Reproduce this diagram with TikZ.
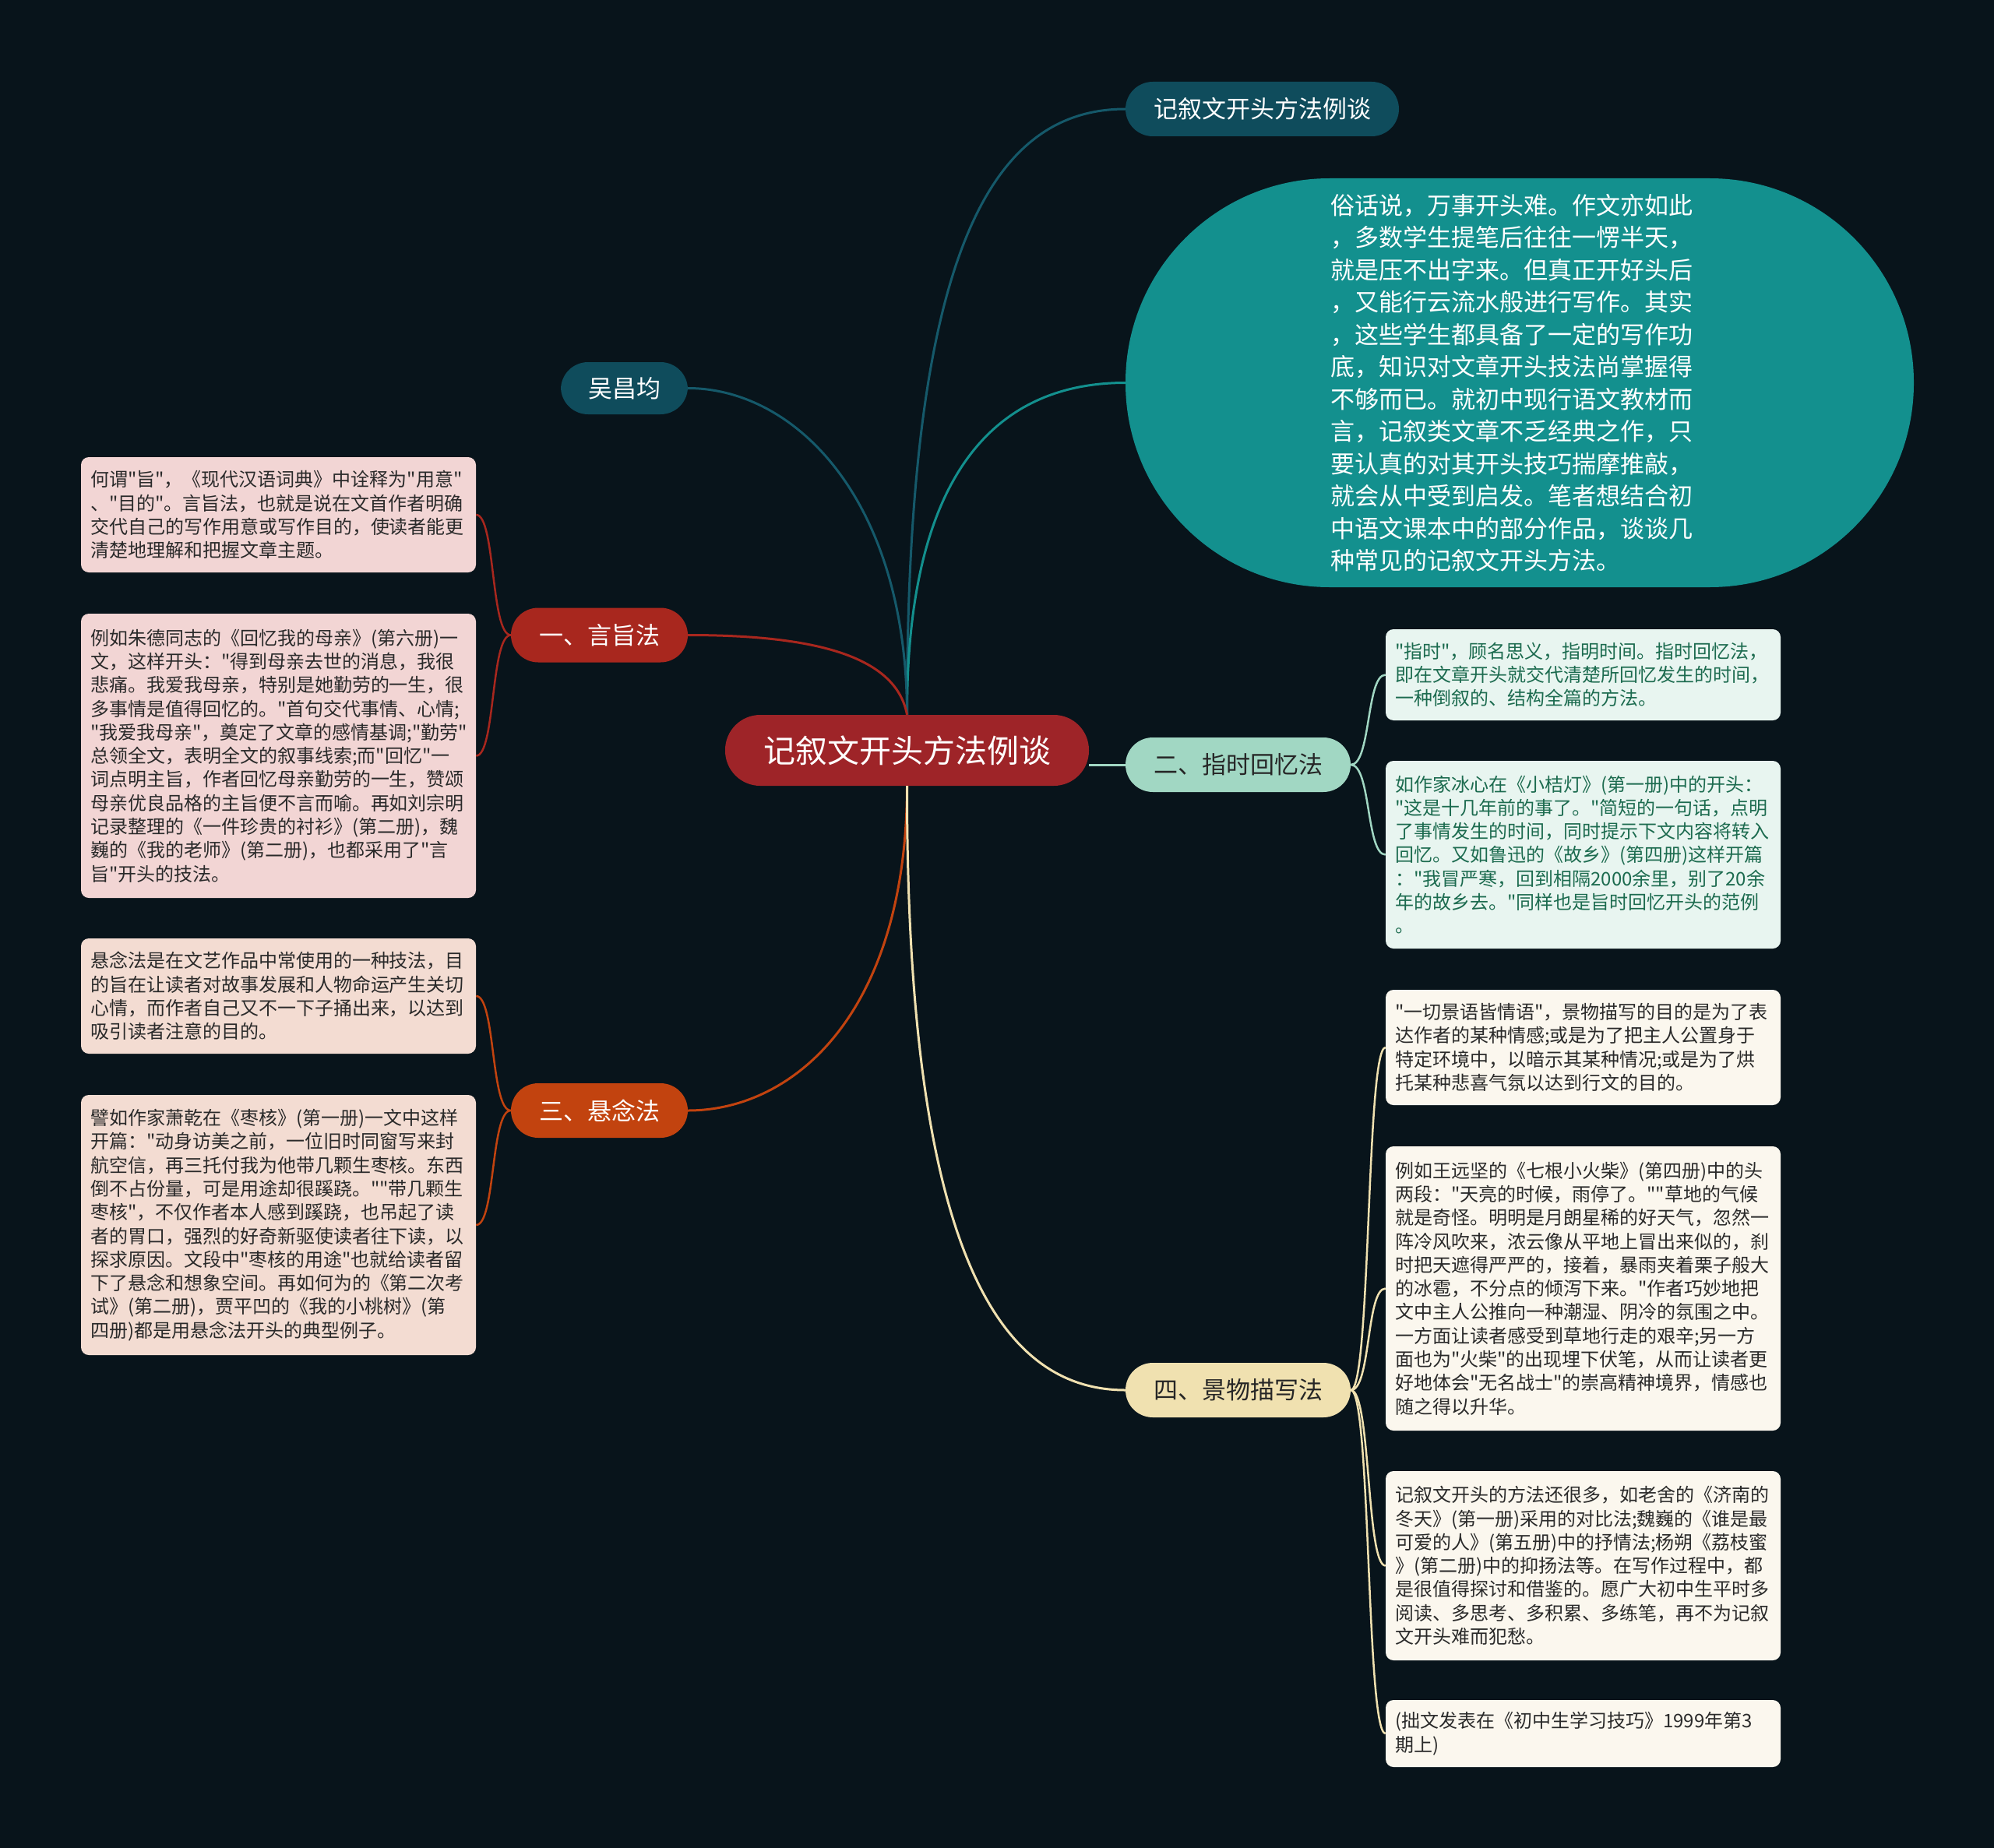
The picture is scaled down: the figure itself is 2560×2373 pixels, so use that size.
\documentclass[tikz,border=0pt]{standalone}
\usepackage{fontspec}
\setmainfont{Noto Sans CJK SC}[Ligatures=TeXOff]
\definecolor{bg}{HTML}{08141B}
\definecolor{cred}{HTML}{9E2428}
\definecolor{yzred}{HTML}{A8271E}
\definecolor{xnor}{HTML}{C2430F}
\definecolor{dteal}{HTML}{0F4C5C}
\definecolor{dteall}{HTML}{15596A}
\definecolor{teal}{HTML}{13908E}
\definecolor{mint}{HTML}{A1D7C3}
\definecolor{beige}{HTML}{F0E1B0}
\definecolor{lpink}{HTML}{F2D5D4}
\definecolor{lpeach}{HTML}{F3DCD2}
\definecolor{lmint}{HTML}{E8F5F0}
\definecolor{lcream}{HTML}{FBF7EE}
\definecolor{gtext}{HTML}{1C6B4F}
\definecolor{dtext}{HTML}{2A2A2A}
\begin{document}
\begin{tikzpicture}[x=1pt,y=-1pt,
  branch/.style={rounded corners=35pt, inner sep=0pt, minimum height=70pt,
    font=\fontsize{31pt}{37pt}\selectfont},
  leaf/.style={rounded corners=10pt, inner xsep=12pt, inner ysep=0pt,
    text width=483pt, minimum height=#1, align=left,
    font=\fontsize{24pt}{30.3pt}\selectfont},
  con/.style={line width=3pt},
  lcon/.style={line width=2.5pt}]
\fill[bg] (0,0) rectangle (2560,2373);
\useasboundingbox (0,0) rectangle (2560,2373);

% central node
\node[fill=cred, text=white, rounded corners=45pt, inner sep=0pt,
  minimum width=467pt, minimum height=91pt,
  font=\fontsize{41pt}{48pt}\selectfont] (c) at (1164.5,963.5) {记叙文开头方法例谈};

% branches
\node[branch, fill=dteal, text=white, minimum width=351pt] (top) at (1620.5,140) {记叙文开头方法例谈};
\node[fill=teal, text=white, rounded corners=262pt, inner sep=0pt,
  minimum width=1012pt, minimum height=525pt, text width=486pt, align=left,
  font=\fontsize{31pt}{41.5pt}\selectfont] (ell) at (1951,491.5) {俗话说，万事开头难。作文亦如此\\
，多数学生提笔后往往一愣半天，\\
就是压不出字来。但真正开好头后\\
，又能行云流水般进行写作。其实\\
，这些学生都具备了一定的写作功\\
底，知识对文章开头技法尚掌握得\\
不够而已。就初中现行语文教材而\\
言，记叙类文章不乏经典之作，只\\
要认真的对其开头技巧揣摩推敲，\\
就会从中受到启发。笔者想结合初\\
中语文课本中的部分作品，谈谈几\\
种常见的记叙文开头方法。};
\node[branch, fill=dteal, text=white, minimum width=163pt, minimum height=67pt] (wu) at (801.5,498.5) {吴昌均};
\node[branch, fill=yzred, text=white, minimum width=227pt] (yz) at (769.5,815.5) {一、言旨法};
\node[branch, fill=mint, text=black!85, minimum width=289pt] (zs) at (1589.5,982) {二、指时回忆法};
\node[branch, fill=xnor, text=white, minimum width=227pt] (xn) at (769.5,1426) {三、悬念法};
\node[branch, fill=beige, text=black!85, minimum width=289pt] (jw) at (1589.5,1785) {四、景物描写法};

% left leaves
\node[leaf=148pt, fill=lpink, text=dtext] (l1) at (357.5,661) {何谓"旨"，《现代汉语词典》中诠释为"用意"\\
、"目的"。言旨法，也就是说在文首作者明确\\
交代自己的写作用意或写作目的，使读者能更\\
清楚地理解和把握文章主题。};
\node[leaf=365pt, fill=lpink, text=dtext] (l2) at (357.5,970.5) {例如朱德同志的《回忆我的母亲》(第六册)一\\
文，这样开头："得到母亲去世的消息，我很\\
悲痛。我爱我母亲，特别是她勤劳的一生，很\\
多事情是值得回忆的。"首句交代事情、心情;\\
"我爱我母亲"，奠定了文章的感情基调;"勤劳"\\
总领全文，表明全文的叙事线索;而"回忆"一\\
词点明主旨，作者回忆母亲勤劳的一生，赞颂\\
母亲优良品格的主旨便不言而喻。再如刘宗明\\
记录整理的《一件珍贵的衬衫》(第二册)，魏\\
巍的《我的老师》(第二册)，也都采用了"言\\
旨"开头的技法。};
\node[leaf=148pt, fill=lpeach, text=dtext] (l3) at (357.5,1279) {悬念法是在文艺作品中常使用的一种技法，目\\
的旨在让读者对故事发展和人物命运产生关切\\
心情，而作者自己又不一下子捅出来，以达到\\
吸引读者注意的目的。};
\node[leaf=334pt, fill=lpeach, text=dtext] (l4) at (357.5,1573) {譬如作家萧乾在《枣核》(第一册)一文中这样\\
开篇："动身访美之前，一位旧时同窗写来封\\
航空信，再三托付我为他带几颗生枣核。东西\\
倒不占份量，可是用途却很蹊跷。""带几颗生\\
枣核"，不仅作者本人感到蹊跷，也吊起了读\\
者的胃口，强烈的好奇新驱使读者往下读，以\\
探求原因。文段中"枣核的用途"也就给读者留\\
下了悬念和想象空间。再如何为的《第二次考\\
试》(第二册)，贾平凹的《我的小桃树》(第\\
四册)都是用悬念法开头的典型例子。};

% right leaves
\node[leaf=117pt, fill=lmint, text=gtext] (r1) at (2032.5,866.5) {"指时"，顾名思义，指明时间。指时回忆法，\\
即在文章开头就交代清楚所回忆发生的时间，\\
一种倒叙的、结构全篇的方法。};
\node[leaf=241pt, fill=lmint, text=gtext] (r2) at (2032.5,1097.5) {如作家冰心在《小桔灯》(第一册)中的开头：\\
"这是十几年前的事了。"简短的一句话，点明\\
了事情发生的时间，同时提示下文内容将转入\\
回忆。又如鲁迅的《故乡》(第四册)这样开篇\\
："我冒严寒，回到相隔2000余里，别了20余\\
年的故乡去。"同样也是旨时回忆开头的范例\\
。};
\node[leaf=148pt, fill=lcream, text=dtext] (r3) at (2032.5,1345) {"一切景语皆情语"，景物描写的目的是为了表\\
达作者的某种情感;或是为了把主人公置身于\\
特定环境中，以暗示其某种情况;或是为了烘\\
托某种悲喜气氛以达到行文的目的。};
\node[leaf=365pt, fill=lcream, text=dtext] (r4) at (2032.5,1654.5) {例如王远坚的《七根小火柴》(第四册)中的头\\
两段："天亮的时候，雨停了。""草地的气候\\
就是奇怪。明明是月朗星稀的好天气，忽然一\\
阵冷风吹来，浓云像从平地上冒出来似的，刹\\
时把天遮得严严的，接着，暴雨夹着栗子般大\\
的冰雹，不分点的倾泻下来。"作者巧妙地把\\
文中主人公推向一种潮湿、阴冷的氛围之中。\\
一方面让读者感受到草地行走的艰辛;另一方\\
面也为"火柴"的出现埋下伏笔，从而让读者更\\
好地体会"无名战士"的崇高精神境界，情感也\\
随之得以升华。};
\node[leaf=243pt, fill=lcream, text=dtext] (r5) at (2032.5,2010.5) {记叙文开头的方法还很多，如老舍的《济南的\\
冬天》(第一册)采用的对比法;魏巍的《谁是最\\
可爱的人》(第五册)中的抒情法;杨朔《荔枝蜜\\
》(第二册)中的抑扬法等。在写作过程中，都\\
是很值得探讨和借鉴的。愿广大初中生平时多\\
阅读、多思考、多积累、多练笔，再不为记叙\\
文开头难而犯愁。};
\node[leaf=86pt, fill=lcream, text=dtext] (r6) at (2032.5,2226) {(拙文发表在《初中生学习技巧》1999年第3\\
期上)};

% main connectors
\draw[con, dteall] (c.north) .. controls (1164,330) and (1270,140) .. (top.west);
\draw[con, teal] (c.north) .. controls (1164,620) and (1270,491.5) .. (ell.west);
\draw[con, dteall] (c.north) .. controls (1164,640) and (1020,498.5) .. (wu.east);
\draw[con, yzred] (c.north) .. controls (1150,840) and (1040,815.5) .. (yz.east);
\draw[con, mint] (c.east |- zs.west) -- (zs.west);
\draw[con, xnor] (c.south) .. controls (1164,1300) and (1020,1426) .. (xn.east);
\draw[con, beige] (c.south) .. controls (1164,1600) and (1280,1785) .. (jw.west);

% leaf connectors
\foreach \n in {l1,l2}
  \draw[lcon, yzred] (yz.west) .. controls +(-26,0) and +(25,0) .. (\n.east);
\foreach \n in {l3,l4}
  \draw[lcon, xnor] (xn.west) .. controls +(-26,0) and +(25,0) .. (\n.east);
\foreach \n in {r1,r2}
  \draw[lcon, mint] (zs.east) .. controls +(26,0) and +(-25,0) .. (\n.west);
\foreach \n in {r3,r4,r5,r6}
  \draw[lcon, beige] (jw.east) .. controls +(26,0) and +(-25,0) .. (\n.west);
\end{tikzpicture}
\end{document}
